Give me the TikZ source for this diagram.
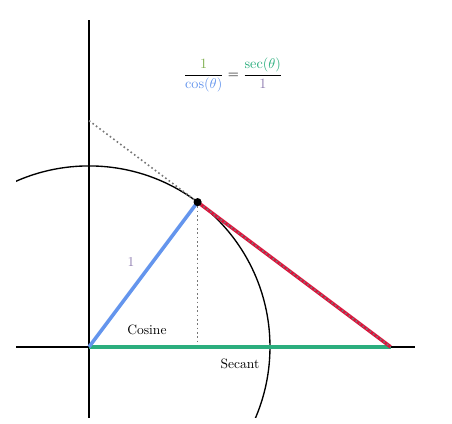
\documentclass[tikz,border=0pt]{standalone}
\usepackage{amsmath,amssymb}
\usepackage{tikz}
\usetikzlibrary{arrows.meta,positioning,calc}
\definecolor{cosblue}{HTML}{6495ED}
\definecolor{secgreen}{HTML}{2BAE7E}
\definecolor{tanred}{HTML}{DC143C}
\definecolor{onepurple}{HTML}{8E7CB0}
\definecolor{oneolive}{HTML}{7FAF4F}
\definecolor{guidegray}{HTML}{777777}
\tikzset{
  axis/.style={line width=1.3pt, color=black},
  circ/.style={line width=1pt, color=black},
  radius line/.style={line width=2.6pt, color=cosblue},
  sec line/.style={line width=2.6pt, color=secgreen},
  tan line/.style={line width=2.6pt, color=tanred},
  guide/.style={line width=1.2pt, color=guidegray, dotted},
  lbl/.style={font=\normalsize, text=black},
  dot/.style={circle, fill=black, inner sep=0pt, minimum size=6pt},
}
\begin{document}
\begin{tikzpicture}[x=4.7cm,y=4.7cm]
  \useasboundingbox (-0.492,-0.425) rectangle (2.006,1.917);
  \coordinate (O) at (0,0);
  \coordinate (P) at (0.6,0.8);
  \coordinate (Cx) at (0.6,0);
  \coordinate (S) at (5/3,0);
  \coordinate (T) at (0,1.25);
  % axes and the clipped unit circle
  \draw[axis] (-0.403,0) -- (1.80,0);
  \draw[axis] (0,-0.392) -- (0,1.807);
  \begin{scope}
    \clip (-0.403,-0.392) rectangle (1.80,1.807);
    \draw[circ] (O) circle (1);
  \end{scope}
  % segments
  \draw[guide] (P) -- (Cx);
  \draw[sec line] (O) -- (S);
  \draw[radius line] (O) -- (P);
  \draw[tan line] (P) -- (S);
  \draw[guide] (T) -- (S);
  \node[dot] (pt) at (P) {};
  % labels
  \node[text=onepurple, font=\normalsize] (one) at (0.232,0.47) {1};
  \node[lbl] (cosl) at (0.32,0.094) {Cosine};
  \node[lbl] (secl) at (0.834,-0.094) {Secant};
  \node[scale=1.05] (eq) at (0.796,1.503)
      {$\dfrac{\textcolor{oneolive}{1}}{\textcolor{cosblue}{\cos(\theta)}} = \dfrac{\textcolor{secgreen}{\sec(\theta)}}{\textcolor{onepurple}{1}}$};
\end{tikzpicture}
\end{document}
